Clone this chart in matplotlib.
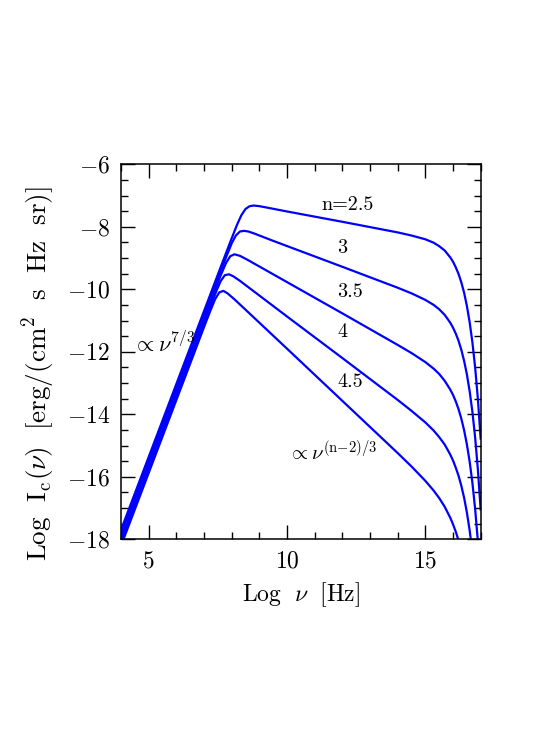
#!/usr/bin/env python3
# -*- coding: utf-8 -*-

import matplotlib
matplotlib.use("Agg")
import matplotlib.pyplot as plt
from matplotlib.ticker import MultipleLocator

# Spectra: Log nu [Hz] vs Log I_c(nu)
n25_x = [4.0, 7.8, 8.0, 8.2, 8.35, 8.5, 8.65, 8.8, 9.0, 9.3, 10.0, 12.0, 14.0, 14.5,
         15.0, 15.3, 15.5, 15.7, 15.9, 16.0, 16.1, 16.2, 16.3, 16.4, 16.5, 16.6,
         16.7, 16.8, 16.9, 17.0]
n25_y = [-17.70, -8.83, -8.37, -7.92, -7.63, -7.43, -7.34, -7.32, -7.34, -7.39, -7.51,
         -7.84, -8.18, -8.28, -8.40, -8.51, -8.62, -8.76, -8.98, -9.12, -9.30, -9.51,
         -9.78, -10.11, -10.53, -11.05, -11.70, -12.51, -13.53, -14.81]

n30_x = [4.0, 7.6, 7.8, 8.0, 8.15, 8.3, 8.45, 8.6, 8.8, 9.5, 12.0, 14.0, 14.5, 15.0,
         15.3, 15.5, 15.7, 15.9, 16.0, 16.1, 16.2, 16.3, 16.4, 16.5, 16.6, 16.7,
         16.8, 16.9, 17.0]
n30_y = [-17.83, -9.43, -8.97, -8.53, -8.28, -8.15, -8.13, -8.15, -8.21, -8.45, -9.28,
         -9.95, -10.13, -10.34, -10.50, -10.64, -10.82, -11.07, -11.23, -11.42, -11.65,
         -11.94, -12.29, -12.72, -13.26, -13.92, -14.75, -15.79, -17.08]

n35_x = [4.0, 7.4, 7.6, 7.8, 7.95, 8.1, 8.3, 8.6, 10.0, 12.0, 14.0, 14.5, 15.0, 15.3,
         15.5, 15.7, 15.9, 16.0, 16.1, 16.2, 16.3, 16.4, 16.5, 16.6, 16.7, 16.8, 16.9]
n35_y = [-17.95, -10.02, -9.56, -9.15, -8.94, -8.88, -8.93, -9.07, -9.77, -10.77,
         -11.78, -12.04, -12.33, -12.54, -12.71, -12.93, -13.21, -13.38, -13.59, -13.84,
         -14.14, -14.51, -14.96, -15.51, -16.19, -17.04, -18.09]

n40_x = [4.0, 7.2, 7.45, 7.6, 7.75, 7.9, 8.05, 8.3, 10.0, 12.0, 14.0, 14.5, 15.0, 15.3,
         15.5, 15.7, 15.9, 16.0, 16.1, 16.2, 16.3, 16.4, 16.5, 16.6, 16.7]
n40_y = [-18.08, -10.62, -10.05, -9.74, -9.55, -9.52, -9.58, -9.73, -10.87, -12.20,
         -13.54, -13.89, -14.26, -14.52, -14.73, -14.97, -15.29, -15.48, -15.71, -15.97,
         -16.29, -16.67, -17.14, -17.71, -18.41]

n45_x = [4.0, 7.0, 7.25, 7.4, 7.55, 7.7, 7.85, 8.1, 10.0, 12.0, 14.0, 14.5, 15.0, 15.3,
         15.5, 15.7, 15.9, 16.0, 16.1, 16.2, 16.3]
n45_y = [-18.21, -11.21, -10.64, -10.32, -10.10, -10.05, -10.13, -10.32, -11.90, -13.57,
         -15.24, -15.67, -16.13, -16.44, -16.68, -16.96, -17.31, -17.52, -17.76, -18.04,
         -18.38]

curve_labels = ['n=2.5', '3', '3.5', '4', '4.5']
label_x = [12.19, 12.0, 12.28, 12.0, 12.30]
label_y = [-7.29, -8.67, -10.08, -11.38, -12.98]


def main():
    plt.rcParams['font.family'] = 'serif'
    plt.rcParams['font.serif'] = ['cmr10']
    plt.rcParams['mathtext.fontset'] = 'cm'
    plt.rcParams['axes.formatter.use_mathtext'] = True

    fig = plt.figure(figsize=(5.34, 7.56), dpi=100)
    ax = fig.add_axes([0.2266, 0.2866, 0.6736, 0.4961])

    for xs, ys in [(n25_x, n25_y), (n30_x, n30_y), (n35_x, n35_y),
                   (n40_x, n40_y), (n45_x, n45_y)]:
        ax.plot(xs, ys, color='#0000ff', linewidth=1.6, solid_capstyle='butt')

    for txt, tx, ty in zip(curve_labels, label_x, label_y):
        ax.text(tx, ty, txt, ha='center', va='center', fontsize=14.5)

    ax.text(4.43, -12.0, r'$\propto\nu^{7/3}$', ha='left', va='baseline', fontsize=16)
    ax.text(11.66, -15.46, r'$\propto\nu^{\rm (n{-}2)/3}$', ha='center', va='baseline',
            fontsize=15)

    ax.set_xlim(4, 17)
    ax.set_ylim(-18, -6)
    ax.xaxis.set_major_locator(MultipleLocator(5))
    ax.xaxis.set_minor_locator(MultipleLocator(1))
    ax.yaxis.set_major_locator(MultipleLocator(2))
    ax.yaxis.set_minor_locator(MultipleLocator(0.5))
    ax.tick_params(which='both', direction='in', top=True, right=True,
                   labelsize=17, width=1.0)
    ax.tick_params(which='major', length=10, pad=8)
    ax.tick_params(which='minor', length=5)
    for sp in ax.spines.values():
        sp.set_linewidth(1.1)

    ax.set_xlabel(r'$\mathrm{Log}\ \ \nu\ \ \mathrm{[Hz]}$', fontsize=17)
    ax.set_ylabel(r'$\mathrm{Log\ \ I_c(}\nu\mathrm{)\ \ [erg/(cm^2\ \ s\ \ Hz\ \ sr)]}$',
                  fontsize=19.5)
    ax.xaxis.set_label_coords(0.5, -0.1085)
    ax.yaxis.set_label_coords(-0.175, 0.441)

    fig.savefig('out.png', dpi=100)


if __name__ == "__main__":
    main()
